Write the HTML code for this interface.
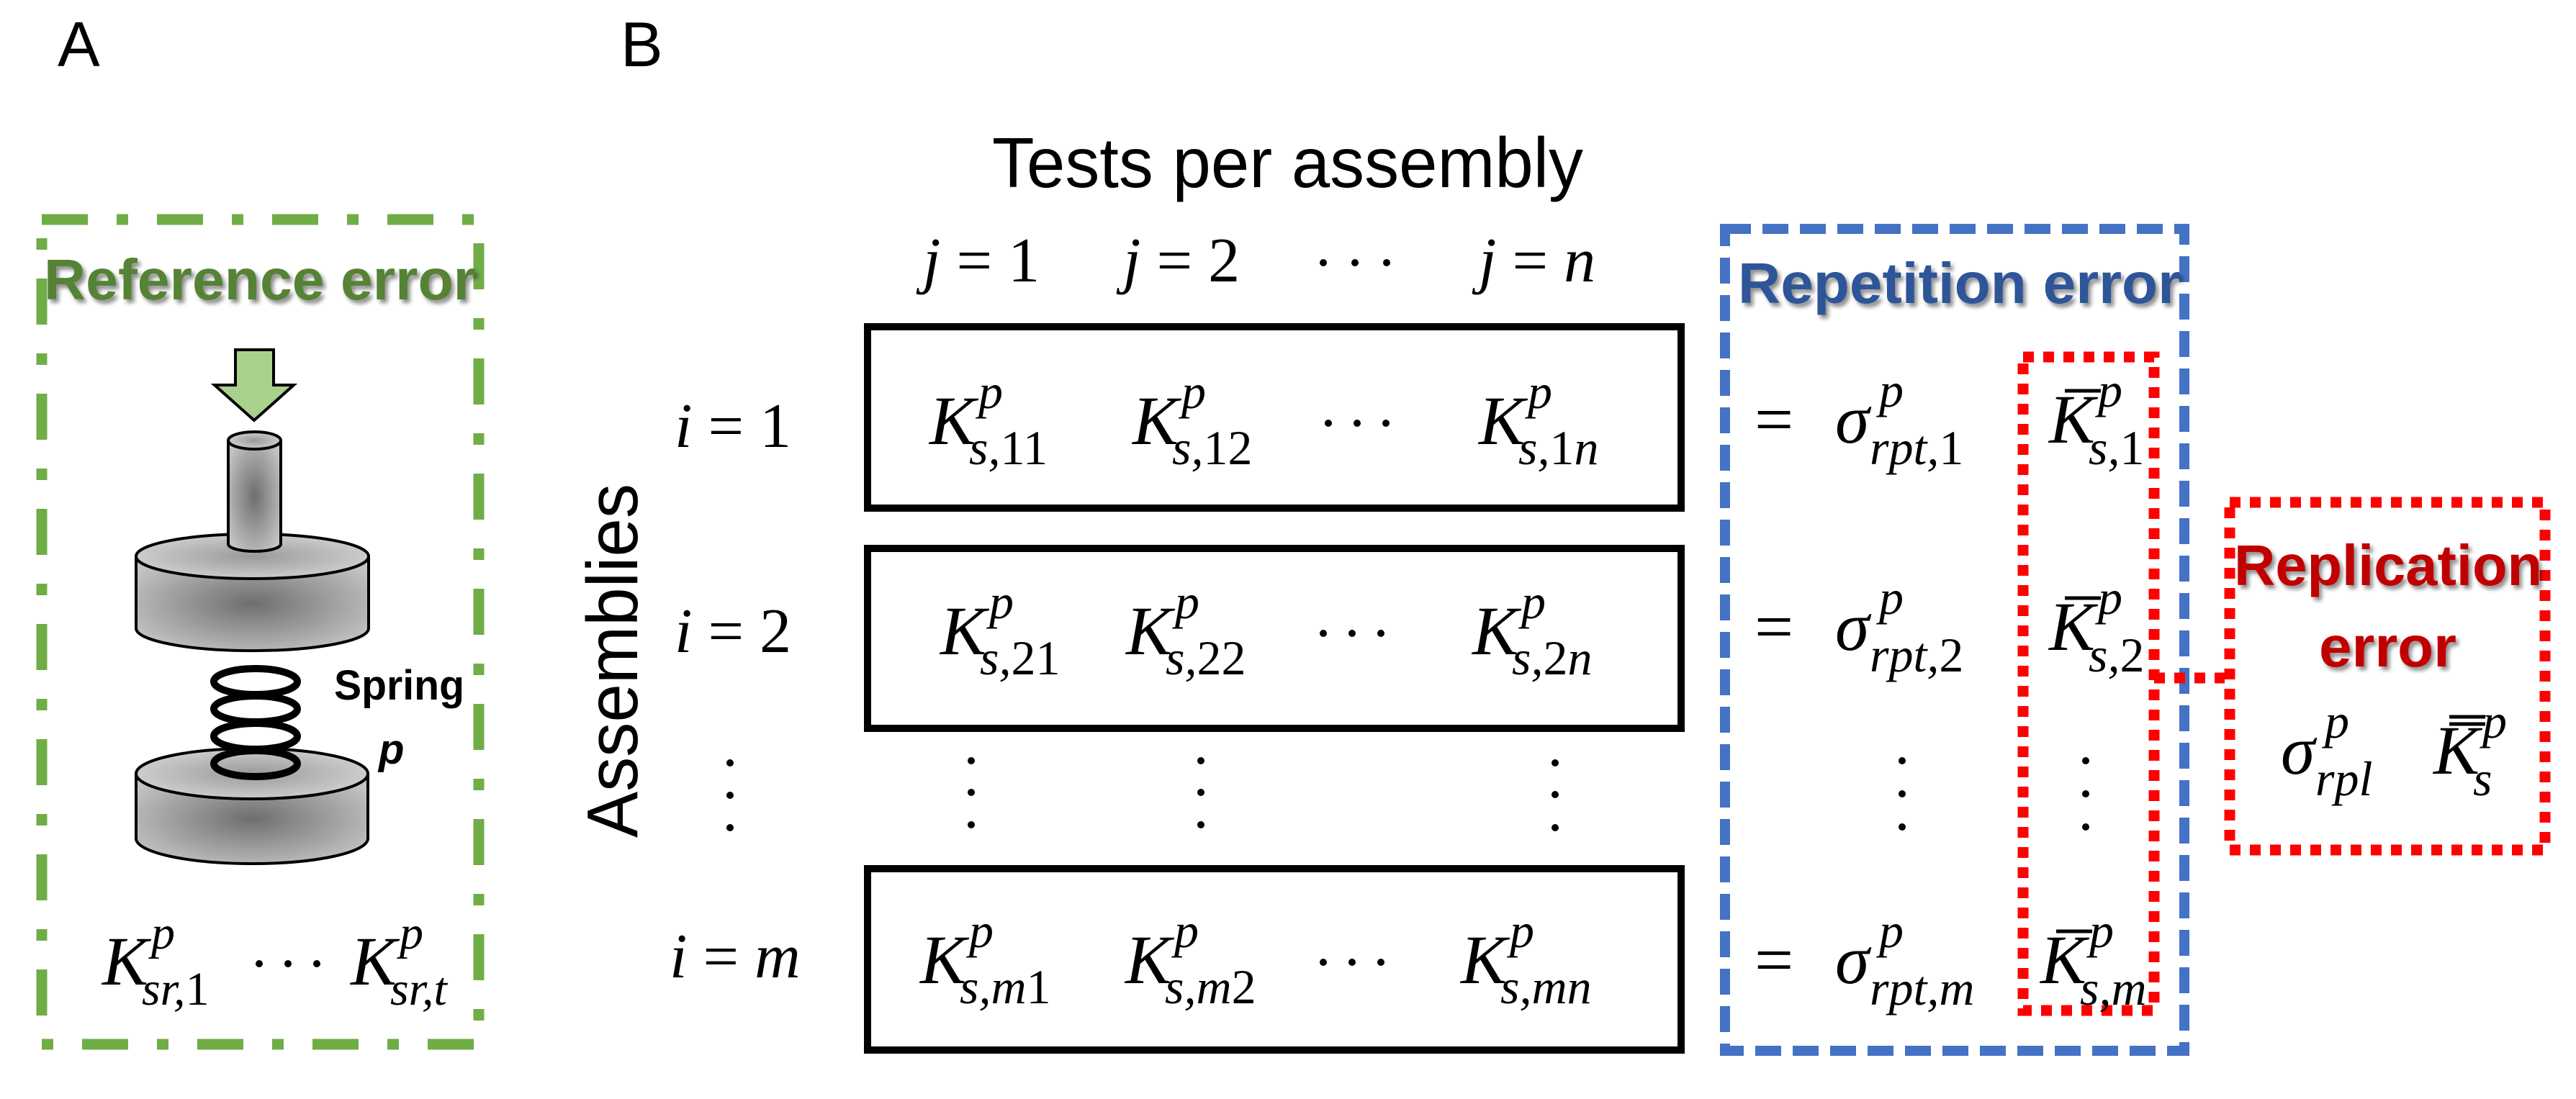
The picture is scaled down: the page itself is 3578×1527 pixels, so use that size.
<!DOCTYPE html>
<html><head><meta charset="utf-8"><style>
html,body{margin:0;padding:0;background:#fff;}
svg{display:block;}
.m{font-family:"Liberation Serif",serif;font-style:italic;fill:#000;}
.u{font-style:normal;}
</style></head><body>
<svg width="3578" height="1527" viewBox="0 0 3578 1527" xmlns="http://www.w3.org/2000/svg">
<defs>
<radialGradient id="g" cx="50%" cy="50%" r="60%">
<stop offset="0" stop-color="#6e6e6e"/><stop offset="1" stop-color="#c4c4c4"/></radialGradient>
<radialGradient id="gt" cx="50%" cy="50%" r="60%">
<stop offset="0" stop-color="#9a9a9a"/><stop offset="1" stop-color="#d6d6d6"/></radialGradient>
<filter id="sh" x="-5%" y="-20%" width="110%" height="150%">
<feGaussianBlur in="SourceAlpha" stdDeviation="3"/><feOffset dx="4" dy="5" result="b"/>
<feComponentTransfer><feFuncA type="linear" slope="0.45"/></feComponentTransfer>
<feMerge><feMergeNode/><feMergeNode in="SourceGraphic"/></feMerge></filter>
</defs>

<text x="80" y="92" font-family="Liberation Sans,sans-serif" font-size="88">A</text>
<text x="862" y="92" font-family="Liberation Sans,sans-serif" font-size="88">B</text>

<rect x="58" y="305" width="607" height="1146" fill="none" stroke="#70ad47" stroke-width="15" stroke-dasharray="64,40,16,40"/>
<text x="61" y="416" font-family="Liberation Sans,sans-serif" font-weight="bold" font-size="80" fill="#548235" textLength="600" lengthAdjust="spacingAndGlyphs" filter="url(#sh)">Reference error</text>

<polygon points="327,486 380,486 380,535 408,535 353,584 298,535 327,535" fill="#a9d18e" stroke="#000" stroke-width="4"/>
<path d="M189,773 L189,873 A161,31 0 0 0 512,873 L512,773 Z" fill="url(#g)" stroke="#000" stroke-width="4"/>
<ellipse cx="350.5" cy="773" rx="161.5" ry="31" fill="url(#gt)" stroke="#000" stroke-width="4"/>
<path d="M317,612 L317,756 A36.5,10 0 0 0 390,756 L390,612" fill="url(#g)" stroke="#000" stroke-width="4"/>
<ellipse cx="353.5" cy="612" rx="36.5" ry="12" fill="url(#gt)" stroke="#000" stroke-width="4"/>
<path d="M189,1075 L189,1165 A161,35 0 0 0 511,1165 L511,1075 Z" fill="url(#g)" stroke="#000" stroke-width="4"/>
<ellipse cx="350" cy="1075" rx="161" ry="35" fill="url(#gt)" stroke="#000" stroke-width="4"/>
<g fill="none" stroke="#000" stroke-width="10">
<ellipse cx="355" cy="947" rx="58" ry="18"/>
<ellipse cx="355" cy="985" rx="58" ry="18"/>
<ellipse cx="355" cy="1023" rx="58" ry="18"/>
<ellipse cx="355" cy="1061" rx="58" ry="18"/>
</g>
<text x="464" y="972" font-family="Liberation Sans,sans-serif" font-weight="bold" font-size="58" textLength="181" lengthAdjust="spacingAndGlyphs">Spring</text>
<text x="526" y="1061" font-family="Liberation Sans,sans-serif" font-weight="bold" font-style="italic" font-size="58">p</text>

<text class="m" x="142" y="1368" font-size="96">K</text>
<text class="m" x="210" y="1318" font-size="66">p</text>
<text class="m" x="197" y="1396" font-size="66">sr,<tspan class="u">1</tspan></text>
<g fill="#000"><circle cx="360" cy="1339" r="5"/><circle cx="400" cy="1339" r="5"/><circle cx="440" cy="1339" r="5"/></g>
<text class="m" x="487" y="1368" font-size="96">K</text>
<text class="m" x="555" y="1318" font-size="66">p</text>
<text class="m" x="542" y="1396" font-size="66">sr,t</text>

<text transform="translate(885,1164) rotate(-90)" font-family="Liberation Sans,sans-serif" font-size="100" textLength="492" lengthAdjust="spacingAndGlyphs">Assemblies</text>

<text class="m" x="937" y="621" font-size="88">i <tspan class="u">= 1</tspan></text>
<text class="m" x="937" y="906" font-size="88">i <tspan class="u">= 2</tspan></text>
<g fill="#000"><circle cx="1014" cy="1060" r="5"/><circle cx="1014" cy="1105" r="5"/><circle cx="1014" cy="1150" r="5"/></g>
<text class="m" x="930" y="1358" font-size="88">i <tspan class="u">=</tspan> m</text>

<text x="1378" y="260" font-family="Liberation Sans,sans-serif" font-size="98" textLength="821" lengthAdjust="spacingAndGlyphs">Tests per assembly</text>
<text class="m" x="1282" y="391" font-size="88">j <tspan class="u">= 1</tspan></text>
<text class="m" x="1560" y="391" font-size="88">j <tspan class="u">= 2</tspan></text>
<g fill="#000"><circle cx="1838" cy="365" r="5"/><circle cx="1882" cy="365" r="5"/><circle cx="1926" cy="365" r="5"/></g>
<text class="m" x="2054" y="391" font-size="88">j <tspan class="u">=</tspan> n</text>

<g fill="none" stroke="#000" stroke-width="10">
<rect x="1205" y="454" width="1130" height="252"/>
<rect x="1205" y="762" width="1130" height="250"/>
<rect x="1205" y="1207" width="1130" height="252"/>
</g>

<g class="m">
<text x="1291" y="617" font-size="96">K</text><text x="1359" y="567" font-size="68">p</text><text x="1346" y="645" font-size="68">s,<tspan class="u">11</tspan></text>
<text x="1573" y="617" font-size="96">K</text><text x="1641" y="567" font-size="68">p</text><text x="1628" y="645" font-size="68">s,<tspan class="u">12</tspan></text>
<text x="2054" y="617" font-size="96">K</text><text x="2122" y="567" font-size="68">p</text><text x="2109" y="645" font-size="68">s,<tspan class="u">1</tspan>n</text>
</g>
<g fill="#000"><circle cx="1845" cy="588" r="5"/><circle cx="1885" cy="588" r="5"/><circle cx="1925" cy="588" r="5"/></g>
<g class="m">
<text x="1306" y="909" font-size="96">K</text><text x="1374" y="859" font-size="68">p</text><text x="1361" y="937" font-size="68">s,<tspan class="u">21</tspan></text>
<text x="1564" y="909" font-size="96">K</text><text x="1632" y="859" font-size="68">p</text><text x="1619" y="937" font-size="68">s,<tspan class="u">22</tspan></text>
<text x="2045" y="909" font-size="96">K</text><text x="2113" y="859" font-size="68">p</text><text x="2100" y="937" font-size="68">s,<tspan class="u">2</tspan>n</text>
</g>
<g fill="#000"><circle cx="1838" cy="880" r="5"/><circle cx="1878" cy="880" r="5"/><circle cx="1918" cy="880" r="5"/></g>
<g fill="#000">
<circle cx="1349" cy="1057" r="5"/><circle cx="1349" cy="1101" r="5"/><circle cx="1349" cy="1146" r="5"/>
<circle cx="1668" cy="1057" r="5"/><circle cx="1668" cy="1101" r="5"/><circle cx="1668" cy="1146" r="5"/>
<circle cx="2160" cy="1060" r="5"/><circle cx="2160" cy="1104" r="5"/><circle cx="2160" cy="1150" r="5"/>
</g>
<g class="m">
<text x="1278" y="1366" font-size="96">K</text><text x="1346" y="1316" font-size="68">p</text><text x="1333" y="1394" font-size="68">s,m<tspan class="u">1</tspan></text>
<text x="1563" y="1366" font-size="96">K</text><text x="1631" y="1316" font-size="68">p</text><text x="1618" y="1394" font-size="68">s,m<tspan class="u">2</tspan></text>
<text x="2029" y="1366" font-size="96">K</text><text x="2097" y="1316" font-size="68">p</text><text x="2084" y="1394" font-size="68">s,mn</text>
</g>
<g fill="#000"><circle cx="1838" cy="1337" r="5"/><circle cx="1878" cy="1337" r="5"/><circle cx="1918" cy="1337" r="5"/></g>

<rect x="2396" y="318" width="638" height="1142" fill="none" stroke="#4472c4" stroke-width="14" stroke-dasharray="36,16"/>
<text x="2414" y="421" font-family="Liberation Sans,sans-serif" font-weight="bold" font-size="80" fill="#2f5597" textLength="615" lengthAdjust="spacingAndGlyphs" filter="url(#sh)">Repetition error</text>

<rect x="2810" y="496" width="182" height="908" fill="none" stroke="#ff0000" stroke-width="15" stroke-dasharray="15,13"/>
<line x1="2992" y1="942" x2="3090" y2="942" stroke="#ff0000" stroke-width="15" stroke-dasharray="15,13"/>
<rect x="3097" y="698" width="438" height="483" fill="none" stroke="#ff0000" stroke-width="15" stroke-dasharray="15,13"/>
<text x="3103" y="813" font-family="Liberation Sans,sans-serif" font-weight="bold" font-size="80" fill="#c00000" textLength="428" lengthAdjust="spacingAndGlyphs" filter="url(#sh)">Replication</text>
<text x="3221" y="926" font-family="Liberation Sans,sans-serif" font-weight="bold" font-size="80" fill="#c00000" textLength="191" lengthAdjust="spacingAndGlyphs" filter="url(#sh)">error</text>

<g class="m">
<text class="u" x="2437" y="615" font-size="96">=</text>
<text x="2549" y="615" font-size="96">σ</text><text x="2610" y="565" font-size="68">p</text><text x="2597" y="645" font-size="68">rpt,<tspan class="u">1</tspan></text>
<text x="2846" y="615" font-size="96">K</text><text x="2914" y="565" font-size="68">p</text><text x="2901" y="645" font-size="68">s,<tspan class="u">1</tspan></text>

<text class="u" x="2437" y="903" font-size="96">=</text>
<text x="2549" y="903" font-size="96">σ</text><text x="2610" y="853" font-size="68">p</text><text x="2597" y="933" font-size="68">rpt,<tspan class="u">2</tspan></text>
<text x="2846" y="903" font-size="96">K</text><text x="2914" y="853" font-size="68">p</text><text x="2901" y="933" font-size="68">s,<tspan class="u">2</tspan></text>

<text class="u" x="2437" y="1366" font-size="96">=</text>
<text x="2549" y="1366" font-size="96">σ</text><text x="2610" y="1316" font-size="68">p</text><text x="2597" y="1396" font-size="68">rpt,m</text>
<text x="2834" y="1366" font-size="96">K</text><text x="2902" y="1316" font-size="68">p</text><text x="2889" y="1396" font-size="68">s,m</text>

<text x="3168" y="1075" font-size="96">σ</text><text x="3229" y="1025" font-size="68">p</text><text x="3216" y="1105" font-size="68">rpl</text>
<text x="3380" y="1075" font-size="96">K</text><text x="3448" y="1025" font-size="68">p</text><text x="3435" y="1105" font-size="68">s</text>
</g>
<g stroke="#000" stroke-width="5">
<line x1="2868" y1="543" x2="2918" y2="543"/>
<line x1="2868" y1="831" x2="2918" y2="831"/>
<line x1="2856" y1="1294" x2="2906" y2="1294"/>
<line x1="3402" y1="996" x2="3452" y2="996"/>
<line x1="3402" y1="1006" x2="3452" y2="1006"/>
</g>
<g fill="#000">
<circle cx="2642" cy="1057" r="5"/><circle cx="2642" cy="1103" r="5"/><circle cx="2642" cy="1149" r="5"/>
<circle cx="2897" cy="1057" r="5"/><circle cx="2897" cy="1103" r="5"/><circle cx="2897" cy="1149" r="5"/>
</g>
</svg>
</body></html>
